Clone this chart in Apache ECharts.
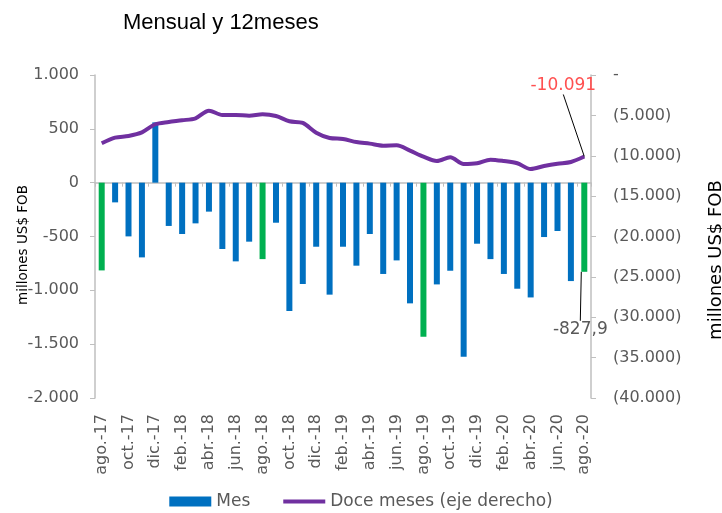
<!DOCTYPE html>
<html>
<head>
<meta charset="utf-8">
<script src="https://cdn.jsdelivr.net/npm/echarts@6/dist/echarts.min.js"></script>
<style>html,body{margin:0;padding:0;background:#fff;}#c{width:722px;height:513px;}</style>
</head>
<body>
<div id="c"></div>
<script>
var months = ['ago.-17','sep.-17','oct.-17','nov.-17','dic.-17','ene.-18','feb.-18','mar.-18','abr.-18','may.-18','jun.-18','jul.-18','ago.-18','sep.-18','oct.-18','nov.-18','dic.-18','ene.-19','feb.-19','mar.-19','abr.-19','may.-19','jun.-19','jul.-19','ago.-19','sep.-19','oct.-19','nov.-19','dic.-19','ene.-20','feb.-20','mar.-20','abr.-20','may.-20','jun.-20','jul.-20','ago.-20'];
var monthly = [-815,-183,-499,-694,560,-402,-477,-378,-269,-616,-731,-548,-710,-372,-1192,-941,-595,-1040,-595,-771,-477,-848,-722,-1121,-1431,-945,-818,-1617,-567,-710,-848,-985,-1066,-505,-449,-914,-827.9];
var twelveMonths = [-8457,-7760,-7550,-7100,-6100,-5820,-5610,-5360,-4420,-4950,-4950,-5040,-4870,-5080,-5730,-5940,-7140,-7800,-7920,-8300,-8500,-8750,-8710,-9370,-10110,-10650,-10190,-11020,-10930,-10480,-10650,-10930,-11640,-11270,-10980,-10770,-10091];
var highlightMonths = ['ago.-17','ago.-18','ago.-19','ago.-20'];
var lineAnnotation = '-10.091';
var barAnnotation = '-827,9';
var seriesNames = ['Mes', 'Doce meses (eje derecho)'];
var titleText = 'Mensual y 12meses';
var axisName = 'millones US$ FOB';

function fmt(v){
  var s = Math.abs(v).toString();
  var out = s.replace(/\B(?=(\d{3})+(?!\d))/g, '.');
  return (v < 0 ? '-' : '') + out;
}
var FONT = 'DejaVu Sans';
var GREY = '#595959';
var AXIS = '#BFBFBF';
var PURPLE = '#7030A0';
var lastIdx = months.length - 1;

var barData = monthly.map(function(v, i){
  var item = { value: v };
  if (highlightMonths.indexOf(months[i]) >= 0) item.itemStyle = { color: '#00B050' };
  if (i === lastIdx) {
    item.label = { show: true, position: 'bottom', formatter: barAnnotation, color: GREY, fontFamily: FONT, fontSize: 17 };
  }
  return item;
});
var lineData = twelveMonths.map(function(v, i){
  var item = { value: v };
  if (i === lastIdx) {
    item.label = { show: true, position: 'top', formatter: lineAnnotation, color: '#FF5050', fontFamily: FONT, fontSize: 17 };
  }
  return item;
});

var chart = echarts.init(document.getElementById('c'), null, { renderer: 'canvas' });
chart.setOption({
  animation: false,
  backgroundColor: '#fff',
  title: {
    text: titleText, left: 118, top: 7,
    textStyle: { fontFamily: 'Liberation Sans', fontSize: 22, fontWeight: 'normal', color: '#000' }
  },
  grid: { left: 95, right: 131, top: 75, bottom: 115, containLabel: false, outerBoundsMode: 'none' },
  legend: {
    left: 'center', top: 488, itemGap: 33, itemWidth: 42, itemHeight: 10,
    textStyle: { fontFamily: FONT, fontSize: 17, color: GREY },
    data: [
      { name: seriesNames[0], icon: 'rect' },
      { name: seriesNames[1], icon: 'path://M0,0 L42,0 L42,4 L0,4 Z', itemStyle: { color: PURPLE } }
    ]
  },
  xAxis: [{
    type: 'category', data: months, position: 'bottom',
    axisLine: { show: false, onZero: false },
    axisTick: { show: false },
    axisLabel: { interval: 1, rotate: 90, margin: 16, fontFamily: FONT, fontSize: 16, color: GREY }
  }, {
    type: 'category', data: months, position: 'bottom',
    axisLine: { show: true, onZero: true, onZeroAxisIndex: 0, lineStyle: { color: AXIS, width: 1.5 } },
    axisTick: { show: true, interval: 1, length: 4, lineStyle: { color: AXIS } },
    axisLabel: { show: false }
  }],
  yAxis: [{
    type: 'value', min: -2000, max: 1000, interval: 500, position: 'left',
    name: axisName, nameLocation: 'middle', nameGap: 65, nameMoveOverlap: false,
    nameTextStyle: { fontFamily: FONT, fontSize: 13.5, color: '#000', padding: [0, 17, 0, 0] },
    axisLine: { show: true, lineStyle: { color: AXIS, width: 1.5 } },
    axisTick: { show: true, length: 5, lineStyle: { color: AXIS } },
    splitLine: { show: false },
    axisLabel: { margin: 16, fontFamily: FONT, fontSize: 16, color: GREY, formatter: function(v){ return fmt(v); } }
  }, {
    type: 'value', min: -40000, max: 0, interval: 5000, position: 'right',
    name: axisName, nameLocation: 'middle', nameGap: 116,
    nameTextStyle: { fontFamily: FONT, fontSize: 18, color: '#000', padding: [0, 47, 0, 0] },
    axisLine: { show: true, lineStyle: { color: AXIS, width: 1.5 } },
    axisTick: { show: true, length: 5, lineStyle: { color: AXIS } },
    splitLine: { show: false },
    axisLabel: { margin: 22, fontFamily: FONT, fontSize: 16, color: GREY, align: 'left',
      formatter: function(v){ return v === 0 ? '-' : '(' + fmt(-v) + ')'; } }
  }],
  series: [{
    name: seriesNames[0], type: 'bar', xAxisIndex: 0, yAxisIndex: 0,
    barWidth: 6, itemStyle: { color: '#0070C0' }, data: barData,
    labelLine: { show: true, lineStyle: { color: '#000', width: 1 } },
    labelLayout: function(p){ return p.dataIndex === lastIdx ? { dx: -4, dy: 44 } : {}; }
  }, {
    name: seriesNames[1], type: 'line', xAxisIndex: 0, yAxisIndex: 1,
    symbol: 'circle', symbolSize: 0.01, showSymbol: true,
    smooth: 0.3, lineStyle: { color: PURPLE, width: 4 }, itemStyle: { color: PURPLE },
    data: lineData, z: 5,
    labelLine: { show: true, lineStyle: { color: '#000', width: 1 } },
    labelLayout: function(p){ return p.dataIndex === lastIdx ? { dx: -21, dy: -57 } : {}; }
  }]
});
</script>
</body>
</html>
